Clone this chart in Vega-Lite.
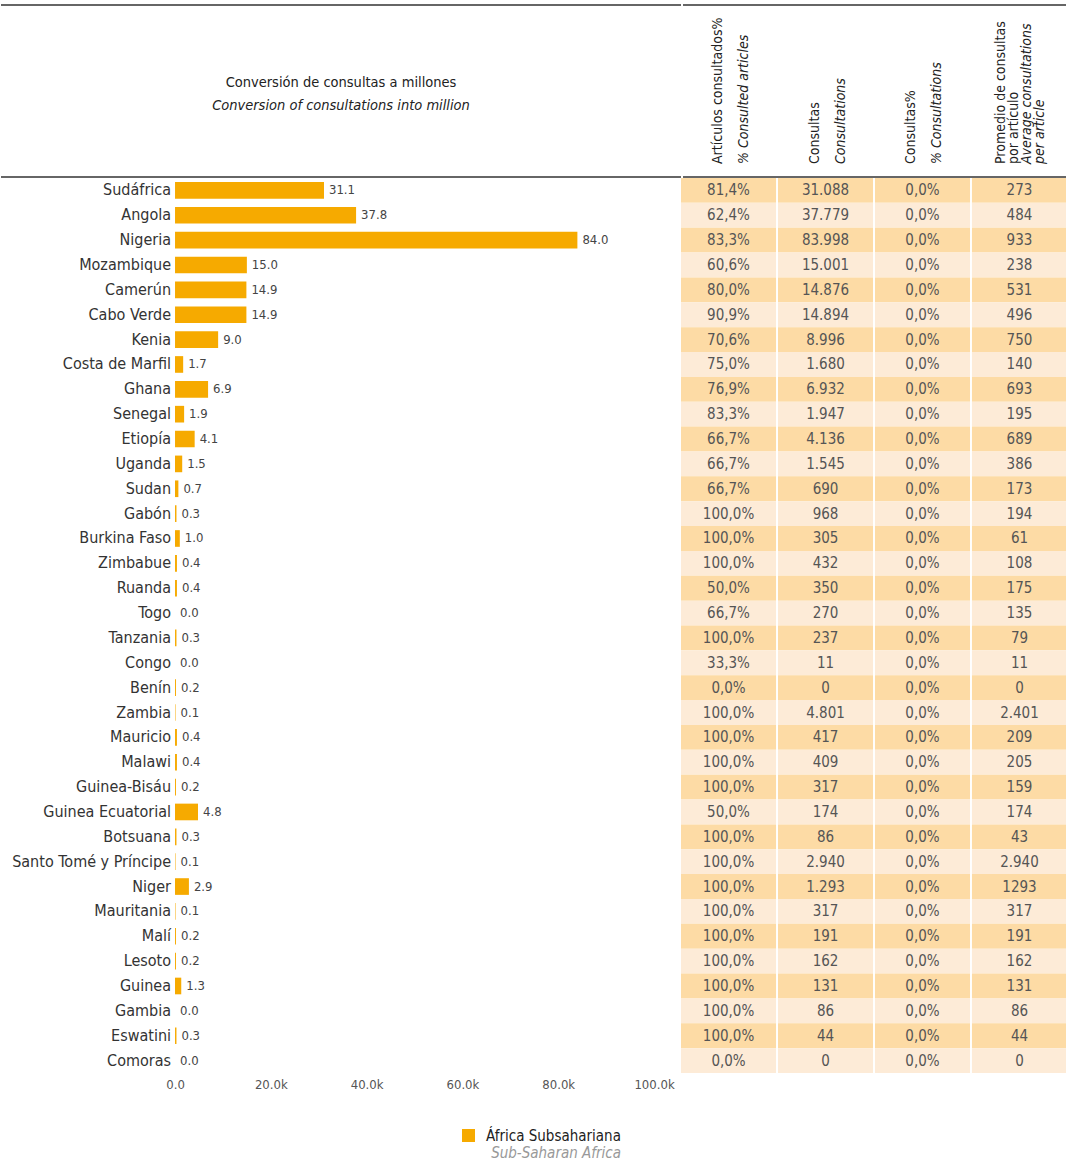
{
  "$schema": "https://vega.github.io/schema/vega-lite/v6.json",
  "padding": {"top": 4, "left": 0, "right": 0, "bottom": 0},
  "background": "white",
  "spacing": 0,
  "config": {"view": {"stroke": null}, "font": "'DejaVu Sans Condensed', 'Liberation Sans Narrow', Roboto, sans-serif", "concat": {"spacing": 0}},
  "datasets": {
    "rows": [
      {"i": 1, "country": "Sudáfrica", "m": 31.1, "a": "81,4%", "b": "31.088", "c": "0,0%", "d": "273"},
      {"i": 2, "country": "Angola", "m": 37.8, "a": "62,4%", "b": "37.779", "c": "0,0%", "d": "484"},
      {"i": 3, "country": "Nigeria", "m": 84.0, "a": "83,3%", "b": "83.998", "c": "0,0%", "d": "933"},
      {"i": 4, "country": "Mozambique", "m": 15.0, "a": "60,6%", "b": "15.001", "c": "0,0%", "d": "238"},
      {"i": 5, "country": "Camerún", "m": 14.9, "a": "80,0%", "b": "14.876", "c": "0,0%", "d": "531"},
      {"i": 6, "country": "Cabo Verde", "m": 14.9, "a": "90,9%", "b": "14.894", "c": "0,0%", "d": "496"},
      {"i": 7, "country": "Kenia", "m": 9.0, "a": "70,6%", "b": "8.996", "c": "0,0%", "d": "750"},
      {"i": 8, "country": "Costa de Marfil", "m": 1.7, "a": "75,0%", "b": "1.680", "c": "0,0%", "d": "140"},
      {"i": 9, "country": "Ghana", "m": 6.9, "a": "76,9%", "b": "6.932", "c": "0,0%", "d": "693"},
      {"i": 10, "country": "Senegal", "m": 1.9, "a": "83,3%", "b": "1.947", "c": "0,0%", "d": "195"},
      {"i": 11, "country": "Etiopía", "m": 4.1, "a": "66,7%", "b": "4.136", "c": "0,0%", "d": "689"},
      {"i": 12, "country": "Uganda", "m": 1.5, "a": "66,7%", "b": "1.545", "c": "0,0%", "d": "386"},
      {"i": 13, "country": "Sudan", "m": 0.7, "a": "66,7%", "b": "690", "c": "0,0%", "d": "173"},
      {"i": 14, "country": "Gabón", "m": 0.3, "a": "100,0%", "b": "968", "c": "0,0%", "d": "194"},
      {"i": 15, "country": "Burkina Faso", "m": 1.0, "a": "100,0%", "b": "305", "c": "0,0%", "d": "61"},
      {"i": 16, "country": "Zimbabue", "m": 0.4, "a": "100,0%", "b": "432", "c": "0,0%", "d": "108"},
      {"i": 17, "country": "Ruanda", "m": 0.4, "a": "50,0%", "b": "350", "c": "0,0%", "d": "175"},
      {"i": 18, "country": "Togo", "m": 0.0, "a": "66,7%", "b": "270", "c": "0,0%", "d": "135"},
      {"i": 19, "country": "Tanzania", "m": 0.3, "a": "100,0%", "b": "237", "c": "0,0%", "d": "79"},
      {"i": 20, "country": "Congo", "m": 0.0, "a": "33,3%", "b": "11", "c": "0,0%", "d": "11"},
      {"i": 21, "country": "Benín", "m": 0.2, "a": "0,0%", "b": "0", "c": "0,0%", "d": "0"},
      {"i": 22, "country": "Zambia", "m": 0.1, "a": "100,0%", "b": "4.801", "c": "0,0%", "d": "2.401"},
      {"i": 23, "country": "Mauricio", "m": 0.4, "a": "100,0%", "b": "417", "c": "0,0%", "d": "209"},
      {"i": 24, "country": "Malawi", "m": 0.4, "a": "100,0%", "b": "409", "c": "0,0%", "d": "205"},
      {"i": 25, "country": "Guinea-Bisáu", "m": 0.2, "a": "100,0%", "b": "317", "c": "0,0%", "d": "159"},
      {"i": 26, "country": "Guinea Ecuatorial", "m": 4.8, "a": "50,0%", "b": "174", "c": "0,0%", "d": "174"},
      {"i": 27, "country": "Botsuana", "m": 0.3, "a": "100,0%", "b": "86", "c": "0,0%", "d": "43"},
      {"i": 28, "country": "Santo Tomé y Príncipe", "m": 0.1, "a": "100,0%", "b": "2.940", "c": "0,0%", "d": "2.940"},
      {"i": 29, "country": "Niger", "m": 2.9, "a": "100,0%", "b": "1.293", "c": "0,0%", "d": "1293"},
      {"i": 30, "country": "Mauritania", "m": 0.1, "a": "100,0%", "b": "317", "c": "0,0%", "d": "317"},
      {"i": 31, "country": "Malí", "m": 0.2, "a": "100,0%", "b": "191", "c": "0,0%", "d": "191"},
      {"i": 32, "country": "Lesoto", "m": 0.2, "a": "100,0%", "b": "162", "c": "0,0%", "d": "162"},
      {"i": 33, "country": "Guinea", "m": 1.3, "a": "100,0%", "b": "131", "c": "0,0%", "d": "131"},
      {"i": 34, "country": "Gambia", "m": 0.0, "a": "100,0%", "b": "86", "c": "0,0%", "d": "86"},
      {"i": 35, "country": "Eswatini", "m": 0.3, "a": "100,0%", "b": "44", "c": "0,0%", "d": "44"},
      {"i": 36, "country": "Comoras", "m": 0.0, "a": "0,0%", "b": "0", "c": "0,0%", "d": "0"}
    ],
    "hdr": [
      {"col": "a", "es": ["Artículos consultados%"], "en": ["% Consulted articles"]},
      {"col": "b", "es": ["Consultas"], "en": ["Consultations"]},
      {"col": "c", "es": ["Consultas%"], "en": ["% Consultations"]},
      {"col": "d", "es": ["Promedio de consultas", "por artículo"], "en": ["Average consultations", "per article"]}
    ]
  },
  "vconcat": [
    {
      "hconcat": [
        {
          "width": 680,
          "height": 172,
          "layer": [
            {
              "data": {"values": [{"p": 1}, {"p": 0}]},
              "mark": {"type": "rule", "color": "#333", "strokeWidth": 1.5},
              "encoding": {"y": {"field": "p", "type": "quantitative", "scale": {"domain": [0, 1]}, "axis": null}}
            },
            {
              "data": {"values": [{"t": "Conversión de consultas a millones"}]},
              "mark": {"type": "text", "fontSize": 14.5, "color": "#222", "baseline": "middle"},
              "encoding": {"y": {"datum": 0.5465, "type": "quantitative"}, "text": {"field": "t"}}
            },
            {
              "data": {"values": [{"t": "Conversion of consultations into million"}]},
              "mark": {"type": "text", "fontSize": 14.5, "color": "#222", "baseline": "middle", "fontStyle": "italic"},
              "encoding": {"y": {"datum": 0.4128, "type": "quantitative"}, "text": {"field": "t"}}
            }
          ]
        },
        {
          "width": 386,
          "height": 172,
          "data": {"name": "hdr"},
          "encoding": {
            "x": {"field": "col", "type": "nominal", "axis": null, "scale": {"paddingInner": 0.02, "paddingOuter": 0}}
          },
          "layer": [
            {
              "data": {"values": [{"p": 1}, {"p": 0}]},
              "mark": {"type": "rule", "color": "#333", "strokeWidth": 1.5},
              "encoding": {"x": null, "y": {"field": "p", "type": "quantitative", "scale": {"domain": [0, 1]}, "axis": null}}
            },
            {
              "transform": [{"filter": "datum.col !== 'd'"}],
              "mark": {"type": "text", "angle": 270, "align": "left", "baseline": "middle", "lineHeight": 13, "dy": -13, "fontSize": 14, "color": "#222"},
              "encoding": {"y": {"datum": 0.0756, "type": "quantitative"}, "text": {"field": "es"}}
            },
            {
              "transform": [{"filter": "datum.col !== 'd'"}],
              "mark": {"type": "text", "angle": 270, "align": "left", "baseline": "middle", "lineHeight": 13, "dy": 13, "fontSize": 14, "color": "#222", "fontStyle": "italic"},
              "encoding": {"y": {"datum": 0.0756, "type": "quantitative"}, "text": {"field": "en"}}
            },
            {
              "transform": [{"filter": "datum.col === 'd'"}],
              "mark": {"type": "text", "angle": 270, "align": "left", "baseline": "middle", "lineHeight": 13, "dy": -19.5, "fontSize": 14, "color": "#222"},
              "encoding": {"y": {"datum": 0.0756, "type": "quantitative"}, "text": {"field": "es"}}
            },
            {
              "transform": [{"filter": "datum.col === 'd'"}],
              "mark": {"type": "text", "angle": 270, "align": "left", "baseline": "middle", "lineHeight": 13, "dy": 6.5, "fontSize": 14, "color": "#222", "fontStyle": "italic"},
              "encoding": {"y": {"datum": 0.0756, "type": "quantitative"}, "text": {"field": "en"}}
            }
          ]
        }
      ]
    },
    {
      "hconcat": [
        {
          "width": 680,
          "height": 895,
          "data": {"name": "rows"},
          "encoding": {
            "y": {"field": "country", "type": "nominal", "sort": null, "axis": null, "scale": {"paddingInner": 0.33, "paddingOuter": 0.165}}
          },
          "layer": [
            {
              "mark": {"type": "bar"},
              "encoding": {
                "x": {
                  "field": "m", "type": "quantitative",
                  "scale": {"domain": [-36.33, 105.63], "nice": false, "zero": false},
                  "axis": {
                    "values": [0, 20, 40, 60, 80, 100],
                    "labelExpr": "datum.value === 0 ? '0.0' : format(datum.value, '.1f') + 'k'",
                    "domain": false, "ticks": false, "grid": false, "title": null,
                    "labelColor": "#555", "labelFontSize": 13, "labelPadding": 5
                  }
                },
                "color": {
                  "datum": "África Subsahariana", "type": "nominal",
                  "scale": {"range": ["#F6AA00"]},
                  "legend": {
                    "orient": "none", "legendX": 460, "legendY": 1123,
                    "title": "Sub-Saharan Africa", "titleOrient": "bottom", "titleAnchor": "end",
                    "titleFontStyle": "italic", "titleFontWeight": "normal", "titleColor": "#999",
                    "titleFontSize": 15, "titlePadding": 2,
                    "labelFontSize": 15, "labelColor": "#222", "labelOffset": 10,
                    "symbolType": "square", "symbolSize": 170, "symbolStrokeWidth": 0
                  }
                }
              }
            },
            {
              "mark": {"type": "text", "align": "left", "dx": 5, "fontSize": 13, "color": "#444"},
              "encoding": {
                "x": {"field": "m", "type": "quantitative"},
                "text": {"field": "m", "type": "quantitative", "format": ".1f"}
              }
            },
            {
              "mark": {"type": "text", "align": "right", "dx": -4, "fontSize": 16, "color": "#333"},
              "encoding": {
                "x": {"datum": 0, "type": "quantitative"},
                "text": {"field": "country"}
              }
            }
          ]
        },
        {
          "width": 386,
          "height": 895,
          "data": {"name": "rows"},
          "transform": [{"fold": ["a", "b", "c", "d"], "as": ["col", "val"]}],
          "encoding": {
            "x": {"field": "col", "type": "nominal", "axis": null, "scale": {"paddingInner": 0.02, "paddingOuter": 0}},
            "y": {"field": "country", "type": "nominal", "sort": null, "axis": null, "scale": {"paddingInner": 0, "paddingOuter": 0}}
          },
          "layer": [
            {
              "mark": {"type": "rect"},
              "encoding": {
                "fill": {"condition": {"test": "datum.i % 2 === 1", "value": "#FDDBA5"}, "value": "#FDEBD7"}
              }
            },
            {
              "mark": {"type": "text", "fontSize": 15, "color": "#555"},
              "encoding": {"text": {"field": "val"}}
            }
          ]
        }
      ]
    }
  ]
}
